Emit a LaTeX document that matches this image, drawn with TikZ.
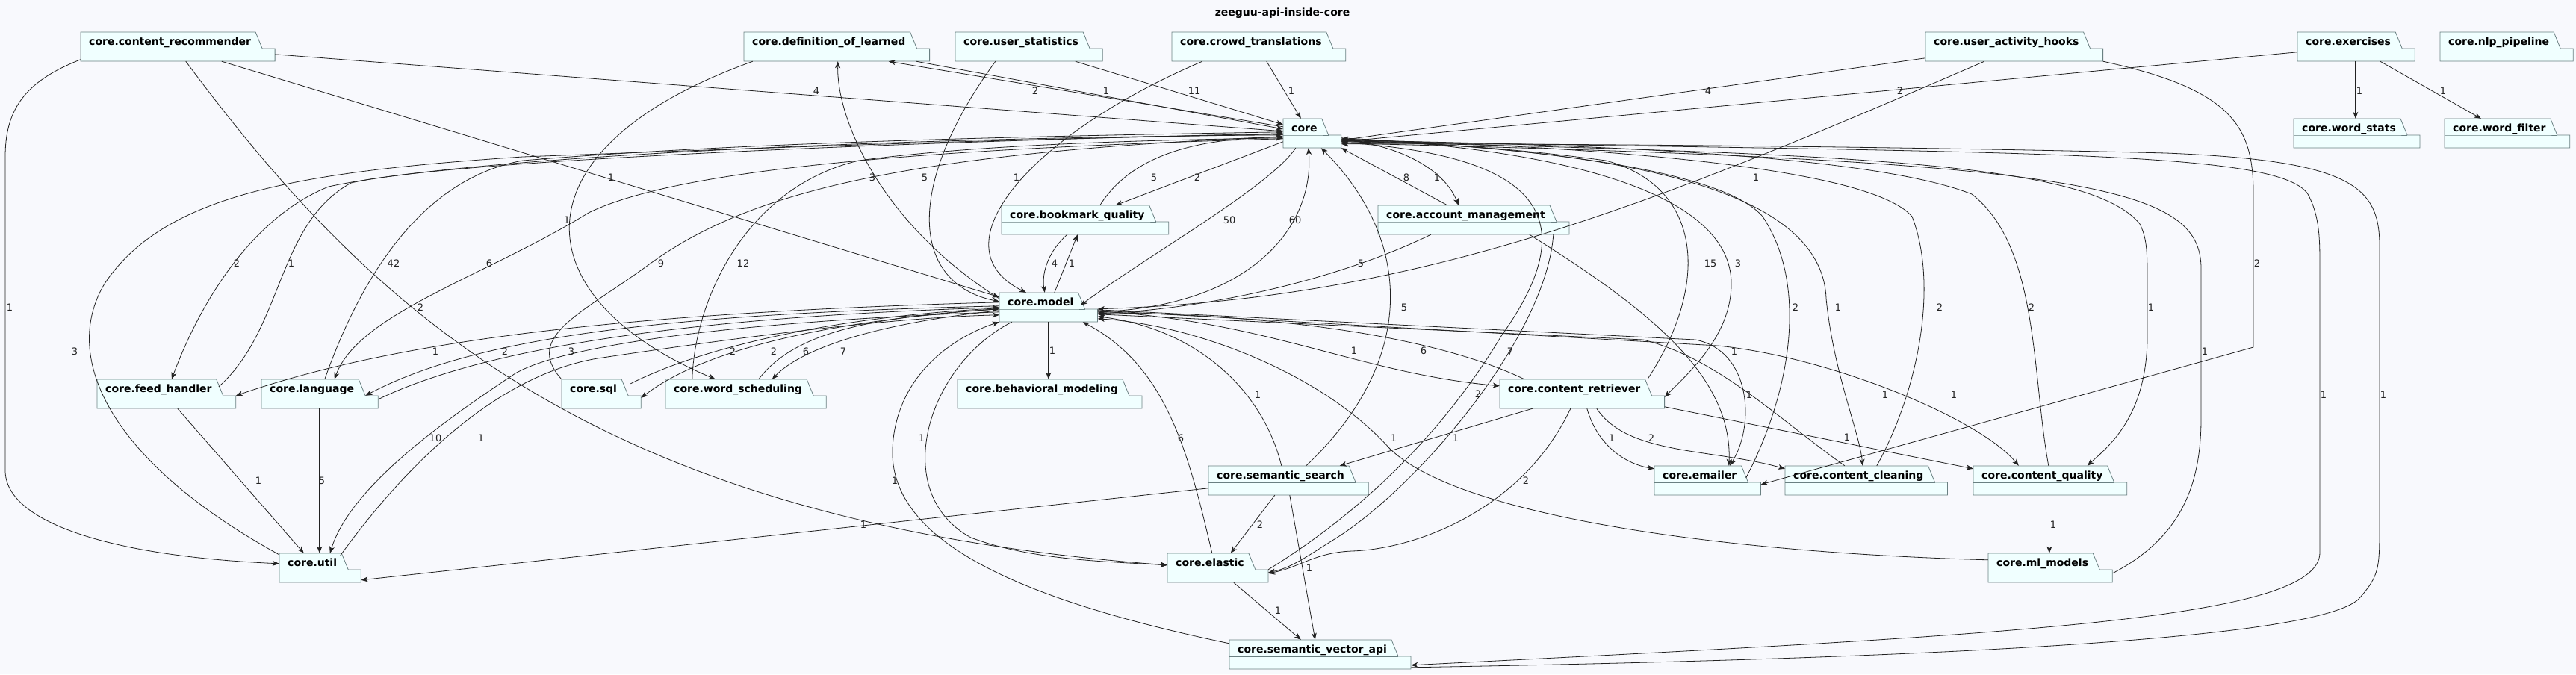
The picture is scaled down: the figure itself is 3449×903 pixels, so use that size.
\documentclass[tikz,border=0pt]{standalone}
\usepackage{fontspec}
\setmainfont{DejaVu Sans}
\usetikzlibrary{arrows.meta,fit}
\definecolor{pagebg}{HTML}{F8F9FD}
\definecolor{pkgfill}{HTML}{F0FFFF}
\definecolor{pkgedge}{HTML}{6A8082}
\definecolor{depline}{HTML}{222222}
\pgfdeclarelayer{background}
\pgfsetlayers{background,main}

\newcommand{\pkgfont}{\fontsize{14}{14}\selectfont\bfseries}
% package: name, x, y (top left), title
\newcommand{\pkg}[4]{%
  \node[pkgname] (#1-name) at (#2+11,#3+17) {#4};
  \begin{pgfonlayer}{background}
    \filldraw[pkgshape] (#2,#3) -- (#1-name.east |- #2,#3) -- ++(6,0) -- ++(9,22)
      -- ++(17,0) -- ++(0,17) -| (#2,#3) -- cycle;
    \draw[pkgrule] (#2,#3+22) -- (#1-name.east |- #2,#3+22) -- ++(15,0);
  \end{pgfonlayer}
  \path (#1-name.east |- #2,#3+39) ++(32,0) coordinate (#1-se);
  \node[pkgbox, fit={(#2,#3) (#1-se)}] (#1) {};
}

\begin{document}
\begin{tikzpicture}[x=1pt, y=-1pt,
    pkgshape/.style={draw=pkgedge, fill=pkgfill, line width=.8pt},
    pkgrule/.style={draw=pkgedge, line width=.8pt},
    pkgbox/.style={rectangle, inner sep=0pt},
    pkgname/.style={anchor=base west, inner sep=0pt, font=\pkgfont},
    dep/.style={draw=depline, line width=.8pt,
      -{Stealth[length=9pt, width=7pt, inset=2.5pt]}},
    lbl/.style={inner sep=0pt, font=\fontsize{13}{13}\selectfont, text=depline},
    ttl/.style={inner sep=0pt, font=\pkgfont}
  ]
  \begin{pgfonlayer}{background}
    \fill[pagebg] (0,0) rectangle (3449,903);
  \end{pgfonlayer}
  \useasboundingbox (0,0) rectangle (3449,903);

  \node[ttl] (title) at (1717,18) {zeeguu-api-inside-core};

  % packages, by rows
  \pkg{cr}{108}{43}{core.content\_recommender}
  \pkg{dol}{996}{43}{core.definition\_of\_learned}
  \pkg{ustat}{1279}{43}{core.user\_statistics}
  \pkg{crowd}{1569}{43}{core.crowd\_translations}
  \pkg{uah}{2578}{43}{core.user\_activity\_hooks}
  \pkg{exer}{3076}{43}{core.exercises}
  \pkg{nlp}{3267}{43}{core.nlp\_pipeline}

  \pkg{core}{1718}{159}{core}
  \pkg{wstats}{3071}{159}{core.word\_stats}
  \pkg{wfilter}{3273}{159}{core.word\_filter}

  \pkg{bq}{1341}{275}{core.bookmark\_quality}
  \pkg{am}{1845}{275}{core.account\_management}

  \pkg{model}{1338}{392}{core.model}

  \pkg{feed}{130}{508}{core.feed\_handler}
  \pkg{lang}{350}{508}{core.language}
  \pkg{sql}{752}{508}{core.sql}
  \pkg{wsched}{891}{508}{core.word\_scheduling}
  \pkg{behav}{1282}{508}{core.behavioral\_modeling}
  \pkg{retr}{2008}{508}{core.content\_retriever}

  \pkg{ssearch}{1618}{624}{core.semantic\_search}
  \pkg{email}{2215}{624}{core.emailer}
  \pkg{clean}{2390}{624}{core.content\_cleaning}
  \pkg{cqual}{2642}{624}{core.content\_quality}

  \pkg{util}{374}{741}{core.util}
  \pkg{elastic}{1563}{741}{core.elastic}
  \pkg{ml}{2662}{741}{core.ml\_models}

  \pkg{sva}{1646}{857}{core.semantic\_vector\_api}

  % top row
  \draw[dep] ([yshift=-30pt]cr.north east) -- ([yshift=-17pt]core.north west)
    node[lbl] (e1) at (1093,122) {4};
  \draw[dep] ([xshift=189pt]cr.south west) -- ([yshift=-6pt]model.north west)
    node[lbl] (e2) at (818,238) {1};
  \draw[dep] ([xshift=141pt]cr.south west) .. controls (500,420) and (800,700) .. ([yshift=-16pt]elastic.north west)
    node[lbl] (e3) at (563,412) {2};
  \draw[dep] ([yshift=-37pt]cr.north west) .. controls (30,110) and (7,150) .. (7,210) -- (7,630)
    .. controls (7,700) and (150,745) .. ([yshift=-14pt]util.north west)
    node[lbl] (e4) at (13,412) {1};
  \draw[dep] ([xshift=231pt]dol.south west) -- ([yshift=-14pt]core.north west)
    node[lbl] (e5) at (1481,122) {1};
  \draw[dep] ([yshift=-11pt]core.north west) -- ([xshift=194pt]dol.south west)
    node[lbl] (e6) at (1386,122) {2};
  \draw[dep] ([yshift=-8pt]model.north west) .. controls (1180,300) and (1120,160) .. ([xshift=126pt]dol.south west)
    node[lbl] (e7) at (1168,238) {3};
  \draw[dep] ([xshift=12pt]dol.south west) .. controls (680,200) and (700,400) .. ([xshift=67pt]wsched.north west)
    node[lbl] (e8) at (759,295) {1};
  \draw[dep] ([xshift=161pt]ustat.south west) -- ([yshift=-8pt]core.north west)
    node[lbl] (e9) at (1599,122) {11};
  \draw[dep] ([xshift=54pt]ustat.south west) .. controls (1210,250) and (1220,380) .. ([yshift=-12pt]model.north west)
    node[lbl] (e10) at (1238,238) {5};
  \draw[dep] ([xshift=127pt]crowd.south west) -- ([xshift=24pt]core.north west)
    node[lbl] (e11) at (1729,122) {1};
  \draw[dep] ([xshift=41pt]crowd.south west) .. controls (1380,180) and (1250,330) .. ([xshift=36pt]model.north west)
    node[lbl] (e12) at (1361,238) {1};
  \draw[dep] ([yshift=-35pt]uah.north west) -- ([yshift=-29pt]core.north east)
    node[lbl] (e13) at (2287,122) {4};
  \draw[dep] ([xshift=79pt]uah.south west) .. controls (2200,280) and (1900,400) .. ([yshift=-22pt]model.north east)
    node[lbl] (e14) at (2351,238) {1};
  \draw[dep] (uah.south east) .. controls (2990,120) and (3017,170) .. (3017,260) -- (3017,465)
    -- ([yshift=-25pt]email.north east)
    node[lbl] (e15) at (3022,353) {2};
  \draw[dep] ([yshift=-27pt]exer.north west) -- ([yshift=-31pt]core.north east)
    node[lbl] (e16) at (2544,122) {2};
  \draw[dep] ([xshift=78pt]exer.south west) -- ([xshift=83pt]wstats.north west)
    node[lbl] (e17) at (3159,122) {1};
  \draw[dep] ([xshift=111pt]exer.south west) -- ([xshift=49pt]wfilter.north west)
    node[lbl] (e18) at (3271,122) {1};

  % core, bookmark_quality, account_management, model
  \draw[dep] ([xshift=132pt]bq.north west) .. controls (1520,200) and (1620,185) .. ([yshift=-25pt]core.north west)
    node[lbl] (e19) at (1545,238) {5};
  \draw[dep] ([yshift=-31pt]core.north west) -- ([xshift=153pt]bq.north west)
    node[lbl] (e20) at (1603,238) {2};
  \draw[dep] ([xshift=88pt]bq.south west) .. controls (1400,340) and (1395,370) .. ([xshift=61pt]model.north west)
    node[lbl] (e21) at (1412,353) {4};
  \draw[dep] ([xshift=74pt]model.north west) -- ([xshift=102pt]bq.south west)
    node[lbl] (e22) at (1435,353) {1};
  \draw[dep] ([xshift=17pt]core.south west) .. controls (1700,250) and (1540,340) .. ([xshift=-23pt,yshift=-17pt]model.north east)
    node[lbl] (e23) at (1646,295) {50};
  \draw[dep] ([yshift=-26pt]model.north east) .. controls (1680,410) and (1760,300) .. ([xshift=34pt]core.south west)
    node[lbl] (e24) at (1734,295) {60};
  \draw[dep] ([xshift=93pt]am.north west) -- (core.south east)
    node[lbl] (e25) at (1883,238) {8};
  \draw[dep] ([yshift=-28pt]core.north east) .. controls (1880,195) and (1935,230) .. ([xshift=108pt]am.north west)
    node[lbl] (e26) at (1924,238) {1};
  \draw[dep] ([xshift=71pt]am.south west) .. controls (1780,380) and (1600,415) .. ([yshift=-28pt]model.north east)
    node[lbl] (e27) at (1822,353) {5};
  \draw[dep] ([xshift=203pt]am.south west) .. controls (2200,410) and (2320,500) .. ([xshift=100pt]email.north west)
    node[lbl] (e28) at (2322,471) {1};

  % model, right side
  \draw[dep] ([yshift=-25pt]model.north east) .. controls (1700,430) and (1820,500) .. ([yshift=-9pt]retr.north west)
    node[lbl] (e29) at (1813,470) {1};
  \draw[dep] ([xshift=33pt]retr.north west) .. controls (1900,440) and (1650,420) .. ([yshift=-27pt]model.north east)
    node[lbl] (e30) at (1906,470) {6};
  \draw[dep] ([xshift=98pt]ssearch.north west) .. controls (1690,520) and (1600,440) .. ([yshift=-32pt]model.north east)
    node[lbl] (e31) at (1684,529) {1};
  \draw[dep] ([yshift=-9pt]ml.north west) .. controls (2300,740) and (1950,690) .. (1860,600)
    .. controls (1770,500) and (1600,435) .. ([yshift=-35pt]model.north east)
    node[lbl] (e32) at (1866,587) {1};
  \draw[dep] ([yshift=-23pt]model.north east) -- (2270,455) .. controls (2345,470) and (2350,570) .. ([xshift=101pt]email.north west)
    node[lbl] (e33) at (2342,529) {1};
  \draw[dep] ([yshift=-24pt]model.north east) -- (2300,463) .. controls (2450,478) and (2650,560) .. ([xshift=61pt]cqual.north west)
    node[lbl] (e34) at (2616,529) {1};
  \draw[dep] ([xshift=80pt]clean.north west) .. controls (2380,560) and (2300,480) .. (2200,455)
    -- ([yshift=-29pt]model.north east)
    node[lbl] (e35) at (2524,529) {1};
  \draw[dep] ([xshift=66pt]model.south west) -- ([xshift=122pt]behav.north west)
    node[lbl] (e36) at (1409,470) {1};
  \draw[dep] ([xshift=60pt]elastic.north west) .. controls (1590,600) and (1560,490) .. ([xshift=112pt]model.south west)
    node[lbl] (e37) at (1581,587) {6};
  \draw[dep] ([xshift=17pt]model.south west) .. controls (1240,490) and (1190,660) .. (1300,720)
    .. controls (1380,750) and (1480,752) .. ([yshift=-16pt]elastic.north west)
    node[lbl] (e38) at (1234,587) {1};
  \draw[dep] ([yshift=-5pt]sva.north west) .. controls (1350,800) and (1190,720) .. (1195,600)
    .. controls (1200,500) and (1280,450) .. (model.south west)
    node[lbl] (e39) at (1198,644) {1};

  % model, left side
  \draw[dep] ([yshift=-26pt]model.north west) .. controls (1000,430) and (760,460) .. (690,500)
    .. controls (600,560) and (470,650) .. ([xshift=68pt]util.north west)
    node[lbl] (e40) at (583,587) {10};
  \draw[dep] ([xshift=82pt,yshift=-3pt]util.north west) .. controls (560,600) and (680,500) .. (800,480)
    .. controls (1000,450) and (1200,425) .. ([yshift=-30pt]model.north west)
    node[lbl] (e41) at (644,587) {1};
  \draw[dep] ([yshift=-13pt]model.north west) .. controls (800,420) and (520,460) .. ([yshift=-22pt]feed.north east)
    node[lbl] (e42) at (583,471) {1};
  \draw[dep] ([yshift=-18pt]model.north west) .. controls (900,420) and (640,450) .. ([xshift=-17pt,yshift=-22pt]lang.north east)
    node[lbl] (e43) at (676,471) {2};
  \draw[dep] ([yshift=-27pt]lang.north east) .. controls (640,470) and (900,425) .. ([yshift=-20pt]model.north west)
    node[lbl] (e44) at (765,471) {3};
  \draw[dep] ([yshift=-22pt]model.north west) .. controls (1100,430) and (940,470) .. ([yshift=-25pt]sql.north east)
    node[lbl] (e45) at (981,471) {2};
  \draw[dep] ([xshift=-14pt,yshift=-6pt]sql.north east) .. controls (930,470) and (1100,425) .. ([yshift=-21pt]model.north west)
    node[lbl] (e46) at (1036,471) {2};
  \draw[dep] ([xshift=125pt]wsched.north west) .. controls (1060,450) and (1150,425) .. ([yshift=-22pt]model.north west)
    node[lbl] (e47) at (1079,471) {6};
  \draw[dep] ([yshift=-24pt]model.north west) .. controls (1200,430) and (1080,460) .. ([xshift=143pt]wsched.north west)
    node[lbl] (e48) at (1129,471) {7};

  % core, left bundle
  \draw[dep] ([yshift=-22pt]core.north west) .. controls (1100,185) and (600,215) .. (440,250)
    .. controls (340,290) and (270,400) .. ([xshift=100pt]feed.north west)
    node[lbl] (e49) at (317,353) {2};
  \draw[dep] ([xshift=-23pt,yshift=-10pt]feed.north east) .. controls (380,440) and (370,300) .. (470,245)
    .. controls (600,215) and (1200,190) .. ([yshift=-20pt]core.north west)
    node[lbl] (e50) at (390,353) {1};
  \draw[dep] ([xshift=85pt]lang.north west) .. controls (480,380) and (560,240) .. (700,215)
    .. controls (1000,190) and (1400,182) .. ([yshift=-18pt]core.north west)
    node[lbl] (e51) at (527,353) {42};
  \draw[dep] ([yshift=-27pt]core.north west) .. controls (1200,200) and (900,230) .. (788,285)
    .. controls (650,370) and (480,420) .. ([xshift=98pt]lang.north west)
    node[lbl] (e52) at (655,353) {6};
  \draw[dep] (sql.north west) .. controls (700,450) and (780,420) .. (872,352)
    .. controls (1000,260) and (1200,205) .. ([yshift=-24pt]core.north west)
    node[lbl] (e53) at (885,353) {9};
  \draw[dep] ([xshift=36pt]wsched.north west) .. controls (930,400) and (1000,250) .. (1150,215)
    .. controls (1300,195) and (1500,188) .. ([yshift=-26pt]core.north west)
    node[lbl] (e54) at (995,353) {12};
  \draw[dep] ([yshift=-2pt]util.north west) .. controls (150,620) and (80,480) .. (140,380)
    .. controls (220,260) and (400,230) .. (700,210)
    .. controls (1100,195) and (1400,185) .. ([yshift=-21pt]core.north west)
    node[lbl] (e55) at (100,471) {3};

  % lower rows
  \draw[dep] ([xshift=108pt]feed.south west) -- ([xshift=33pt]util.north west)
    node[lbl] (e56) at (346,644) {1};
  \draw[dep] ([xshift=78pt]lang.south west) -- ([xshift=54pt]util.north west)
    node[lbl] (e57) at (431,644) {5};
  \draw[dep] ([yshift=-30pt]ssearch.north west) -- ([yshift=-36pt]util.north east)
    node[lbl] (e58) at (1156,703) {1};
  \draw[dep] ([xshift=131pt]ssearch.north west) .. controls (1900,480) and (1890,320) .. ([xshift=51pt]core.south west)
    node[lbl] (e59) at (1880,412) {5};
  \draw[dep] ([xshift=44pt]retr.south west) -- ([xshift=176pt]ssearch.north west)
    node[lbl] (e60) at (1949,587) {1};
  \draw[dep] ([xshift=89pt]ssearch.south west) -- ([xshift=85pt]elastic.north west)
    node[lbl] (e61) at (1687,703) {2};
  \draw[dep] ([xshift=109pt]ssearch.south west) -- ([xshift=115pt]sva.north west)
    node[lbl] (e62) at (1753,761) {1};
  \draw[dep] ([xshift=89pt]elastic.south west) -- ([xshift=96pt]sva.north west)
    node[lbl] (e63) at (1711,818) {1};
  \draw[dep] ([xshift=95pt]retr.south west) .. controls (2040,680) and (1900,735) .. (1810,738)
    .. controls (1760,740) and (1740,760) .. ([yshift=-27pt]elastic.north east)
    node[lbl] (e64) at (2043,644) {2};
  \draw[dep] ([yshift=-22pt]elastic.north east) .. controls (1800,700) and (1920,600) .. (2010,450)
    .. controls (2110,310) and (2090,210) .. ([yshift=-32pt]core.north east)
    node[lbl] (e65) at (2022,471) {7};
  \draw[dep] ([xshift=235pt]am.south west) .. controls (2070,450) and (1900,650) .. (1790,720)
    .. controls (1750,745) and (1730,760) .. ([yshift=-26pt]elastic.north east)
    node[lbl] (e66) at (1979,528) {2};
  \draw[dep] ([xshift=102pt]cqual.south west) -- ([xshift=82pt]ml.north west)
    node[lbl] (e67) at (2749,703) {1};

  % content_retriever and friends
  \draw[dep] ([yshift=-26pt]core.north east) .. controls (2100,200) and (2318,260) .. (2318,380)
    .. controls (2318,450) and (2260,500) .. ([yshift=-24pt]retr.north east)
    node[lbl] (e68) at (2327,353) {3};
  \draw[dep] ([xshift=198pt]retr.north west) .. controls (2290,380) and (2280,250) .. (2150,215)
    .. controls (2000,195) and (1900,192) .. ([yshift=-30pt]core.north east)
    node[lbl] (e69) at (2290,353) {15};
  \draw[dep] ([xshift=117pt]retr.south west) .. controls (2140,600) and (2180,622) .. ([yshift=-4pt]email.north west)
    node[lbl] (e70) at (2158,587) {1};
  \draw[dep] ([xshift=130pt]retr.south west) .. controls (2180,610) and (2290,600) .. ([yshift=-4pt]clean.north west)
    node[lbl] (e71) at (2211,587) {2};
  \draw[dep] ([yshift=-37pt]retr.north east) -- ([yshift=-4pt]cqual.north west)
    node[lbl] (e72) at (2473,586) {1};

  % core, right bundle
  \draw[dep] ([xshift=-20pt,yshift=-16pt]email.north east) .. controls (2400,520) and (2420,380) .. (2360,290)
    .. controls (2300,220) and (2000,195) .. ([yshift=-27pt]core.north east)
    node[lbl] (e73) at (2404,412) {2};
  \draw[dep] ([yshift=-29pt]core.north east) .. controls (2200,200) and (2440,260) .. (2445,400)
    .. controls (2455,500) and (2490,580) .. ([xshift=104pt]clean.north west)
    node[lbl] (e74) at (2461,412) {1};
  \draw[dep] ([xshift=123pt]clean.north west) .. controls (2570,520) and (2595,380) .. (2560,290)
    .. controls (2500,220) and (2100,195) .. ([yshift=-28pt]core.north east)
    node[lbl] (e75) at (2597,412) {2};
  \draw[dep] ([xshift=101pt]cqual.north west) .. controls (2720,500) and (2730,330) .. (2640,260)
    .. controls (2500,205) and (2100,193) .. ([yshift=-29pt]core.north east)
    node[lbl] (e76) at (2720,412) {2};
  \draw[dep] ([yshift=-31pt]core.north east) .. controls (2500,205) and (2800,220) .. (2865,300)
    .. controls (2875,320) and (2875,340) .. (2875,380) -- (2875,450)
    .. controls (2875,560) and (2820,600) .. ([xshift=153pt]cqual.north west)
    node[lbl] (e77) at (2880,412) {1};
  \draw[dep] ([yshift=-27pt]ml.north east) .. controls (2920,720) and (2947,650) .. (2947,560) -- (2947,360)
    .. controls (2947,250) and (2800,215) .. ([yshift=-33pt]core.north east)
    node[lbl] (e78) at (2952,471) {1};
  \draw[dep] ([yshift=-30pt]core.north east) .. controls (2700,205) and (3050,200) .. (3090,260)
    .. controls (3106,290) and (3106,320) .. (3106,360) -- (3106,740)
    .. controls (3106,830) and (2700,850) .. ([yshift=-34pt]sva.north east)
    node[lbl] (e79) at (3111,529) {1};
  \draw[dep] ([yshift=-37pt]sva.north east) .. controls (2700,880) and (3120,850) .. (3160,800)
    .. controls (3186,770) and (3186,760) .. (3186,700) -- (3186,330)
    .. controls (3186,250) and (3150,215) .. (2900,205)
    .. controls (2500,195) and (2000,192) .. ([yshift=-34pt]core.north east)
    node[lbl] (e80) at (3191,529) {1};
\end{tikzpicture}
\end{document}
